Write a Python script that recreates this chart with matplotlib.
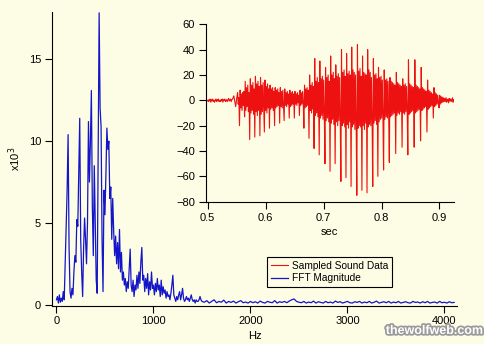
import numpy as np
import matplotlib
matplotlib.use("Agg")
import matplotlib.pyplot as plt
import matplotlib.patheffects as pe

plt.rcParams['font.family'] = ['Liberation Sans', 'DejaVu Sans']

# FFT magnitude (x10^3), 0..1500 Hz every 10 Hz
fft_low_hz = np.arange(0, 1510, 10)
fft_low_mag = [
    0.3, 0.5, 0.1, 0.6, 0.15, 0.4, 0.2, 0.8, 0.3, 2.5,
    4.5, 7.0, 10.4, 3.5, 0.8, 0.4, 1.0, 0.6, 2.0, 3.0,
    2.6, 5.2, 4.8, 8.0, 11.4, 4.0, 2.0, 0.5, 3.5, 5.3,
    4.0, 2.5, 5.0, 11.2, 7.5, 10.0, 13.1, 6.0, 3.0, 8.5,
    5.0, 1.5, 0.7, 9.0, 17.85, 12.0, 10.9, 4.0, 0.8, 7.0,
    5.5, 8.0, 10.8, 9.5, 10.0, 6.5, 7.2, 4.0, 6.5, 4.5,
    3.0, 4.2, 2.5, 3.8, 2.2, 4.6, 2.0, 3.2, 1.5, 2.0,
    1.2, 1.6, 0.8, 1.4, 1.0, 2.2, 3.4, 1.2, 0.8, 1.5,
    0.5, 1.2, 0.9, 1.8, 1.0, 2.0, 1.3, 2.6, 3.5, 1.5,
    1.8, 0.8, 1.6, 1.0, 1.9, 0.6, 1.4, 0.9, 2.0, 1.0,
    1.2, 0.6, 1.3, 0.8, 1.6, 0.9, 1.2, 0.5, 1.5, 0.6,
    1.1, 0.7, 0.9, 0.4, 0.8, 0.5, 0.6, 0.3, 0.7, 1.2,
    1.8, 0.6, 0.4, 0.2, 0.5, 0.3, 0.6, 0.8, 0.3, 0.6,
    1.0, 0.4, 0.2, 0.3, 0.5, 0.3, 0.4, 0.2, 0.4, 0.6,
    0.3, 0.2, 0.3, 0.1, 0.3, 0.2, 0.2, 0.3, 0.5, 0.3,
    0.2,
]
# tail 1525..4100 Hz every 25 Hz
fft_high_hz = np.arange(1525, 4125, 25)
fft_high_mag = [
    0.15, 0.25, 0.1, 0.2, 0.3, 0.12, 0.2, 0.15, 0.28, 0.1,
    0.2, 0.14, 0.22, 0.1, 0.18, 0.25, 0.12, 0.16, 0.1, 0.2,
    0.12, 0.18, 0.1, 0.22, 0.14, 0.1, 0.2, 0.15, 0.12, 0.25,
    0.1, 0.18, 0.14, 0.2, 0.12, 0.22, 0.3, 0.35, 0.2, 0.15,
    0.12, 0.2, 0.1, 0.16, 0.12, 0.22, 0.1, 0.18, 0.14, 0.1,
    0.2, 0.12, 0.16, 0.1, 0.22, 0.14, 0.18, 0.1, 0.15, 0.2,
    0.12, 0.1, 0.18, 0.14, 0.2, 0.1, 0.16, 0.12, 0.2, 0.1,
    0.15, 0.22, 0.1, 0.14, 0.18, 0.12, 0.2, 0.1, 0.16, 0.12,
    0.2, 0.1, 0.14, 0.18, 0.12, 0.1, 0.2, 0.14, 0.16, 0.1,
    0.18, 0.12, 0.2, 0.1, 0.14, 0.16, 0.1, 0.2, 0.12, 0.15,
    0.1, 0.18, 0.12, 0.14,
]

# sampled sound, one row per pitch period, samples every 1.1 ms from 0.5 s
sound_t0 = 0.5
sound_dt = 0.0011
sound_rows = [
    [0.0, -1.0, 0.5, -0.5, 1.0, -1.5, 0.5, -0.5],
    [1.0, -1.0, 0.0, -1.5, 0.5, 1.0, -1.0, 0.5],
    [-0.5, 1.0, -1.0, 0.0, -1.0, 0.5, -0.5, 1.0],
    [-1.5, 0.5, 0.0, 1.0, -1.0, -0.5, 0.5, -1.0],
    [0.5, 1.5, -0.5, 0.0, 1.0, -1.0, 0.5, 1.0],
    [2.0, 3.5, 1.0, -2.0, -5.0, -1.0, 3.0, 6.0, -3.0, 2.0],
    [-20, 8, -6, 5, -8, 6, -4, 7],
    [-13, 15, -8, 10, -5, 12, -9, 6],
    [-31, 17, -10, 12, -8, 14, -11, 9],
    [-29, 19, -9, 13, -12, 15, -8, 11],
    [-28, 18, -11, 12, -9, 14, -7],
    [-25, 16, -8, 11, -10, 13, -6, 9],
    [-22, 12, -7, 9, -6, 10, -8, 7],
    [-20, 10, -6, 8, -5, 9, -4, 6],
    [-18, 10, -5, 7, -6, 8, -4],
    [-16, 9, -4, 6, -5, 7, -3, 5],
    [-14, 8, -5, 6, -4, 7, -3, 5],
    [-14, 7, -3, 5, -4, 6, -2, 4],
    [-12, 8, -4, 6, -3, 7, -2],
    [-22, 12, -6, 9, -5, 10, -4, 8],
    [-30, 20, -8, 12, -10, 14, -7, 11],
    [-38, 33, -12, 15, -10, 18, -13, 14],
    [-43, 31, -14, 17, -12, 19, -15, 16, -10],
    [-50, 26, -16, 18, -14, 20, -17, 15],
    [-56, 35, -18, 20, -15, 22, -19, 17],
    [-50, 28, -17, 19, -20, 21, -16, 18, -14],
    [-64, 40, -20, 22, -18, 24, -21, 19],
    [-61, 37, -19, 21, -22, 23, -17, 20],
    [-68, 42, -21, 24, -19, 22, -23, 20, -18],
    [-75, 44, -22, 23, -20, 25, -21, 19],
    [-71, 35, -20, 22, -23, 21, -18, 20],
    [-73, 40, -21, 24, -19, 22, -20, 18, -17],
    [-68, 33, -18, 20, -16, 21, -19, 17],
    [-60, 26, -17, 18, -15, 19, -14, 16, -13],
    [-55, 24, -15, 16, -13, 17, -14, 15, -12],
    [-49, 18, -13, 15, -12, 14, -11, 13, -10, 12],
    [-42, 22, -12, 14, -10, 13, -11, 12, -9, 11],
    [-37, 17, -10, 12, -11, 13, -9, 11, -8],
    [-43, 32, -11, 13, -10, 12, -9, 11, -8, 10],
    [-37, 32, -10, 12, -9, 11, -8, 10, -7, 9],
    [-32, 26, -8, 10, -7, 9, -6, 8, -5, 7],
    [-25, 16, -7, 8, -6, 7, -5, 6, -4, 5],
    [-14, 10, -5, 6, -4, 5, -3, 4, -2],
    [-6, 4, -3, 3, -2, 2.5, -1.5, 2, -1],
    [1.5, -1.0, 2.0, -1.5, 0.5, 1.0, -2.0, 1.5, -0.5, 1.0, -1.0, 0.5, 2.0, -1.5, 0.5],
]

bg = '#fdfde6'
red = '#ee1111'
blue = '#1414c8'

sound = np.concatenate([np.array(r, dtype=float) for r in sound_rows])
sound_t = sound_t0 + sound_dt * np.arange(len(sound))
fft_hz = np.concatenate([fft_low_hz, fft_high_hz])
fft_mag = np.concatenate([fft_low_mag, fft_high_mag])

fig = plt.figure(figsize=(4.85, 3.44), dpi=100, facecolor=bg)

ax = fig.add_axes([0.1072, 0.1119, 0.835, 0.8532])
ax.set_facecolor(bg)
blue_line, = ax.plot(fft_hz, fft_mag, color=blue, lw=0.9)
ax.set_xlim(-46, 4129)
ax.set_ylim(-0.05, 17.9)
ax.set_xticks([0, 1000, 2000, 3000, 4000])
ax.set_yticks([0, 5, 10, 15])
ax.spines['top'].set_visible(False)
ax.spines['right'].set_visible(False)
ax.tick_params(direction='out', length=5.3, width=0.8, labelsize=8, pad=2.5)
ax.set_xlabel('Hz', fontsize=8, labelpad=3)
ax.set_ylabel('x10$^3$', fontsize=8, labelpad=4)

ins = fig.add_axes([0.424, 0.4137, 0.512, 0.5157])
ins.patch.set_alpha(0)
red_line, = ins.plot(sound_t, sound, color=red, lw=0.8)
ins.set_xlim(0.4966, 0.925)
ins.set_ylim(-80, 60)
ins.set_xticks([0.5, 0.6, 0.7, 0.8, 0.9])
ins.set_yticks(range(-80, 61, 20))
ins.spines['top'].set_visible(False)
ins.spines['right'].set_visible(False)
ins.tick_params(direction='out', length=5.3, width=0.8, labelsize=8, pad=2.5)
ins.set_xlabel('sec', fontsize=8, labelpad=3)

leg = fig.legend([red_line, blue_line], ['Sampled Sound Data', 'FFT Magnitude'],
                 loc='upper left', bbox_to_anchor=(0.5505, 0.2529), fontsize=7.3,
                 frameon=True, fancybox=False, edgecolor='black', facecolor=bg,
                 framealpha=1, borderpad=0.35, labelspacing=0.25,
                 handlelength=1.7, handletextpad=0.4, borderaxespad=0)
leg.get_frame().set_linewidth(0.8)

fig.text(0.996, 0.038, 'thewolfweb.com', ha='right', va='center', fontsize=9,
         fontweight='bold', color='white',
         path_effects=[pe.withStroke(linewidth=2.5, foreground='#9a9a9a')])

fig.savefig('out.png', dpi=100, facecolor=bg)
